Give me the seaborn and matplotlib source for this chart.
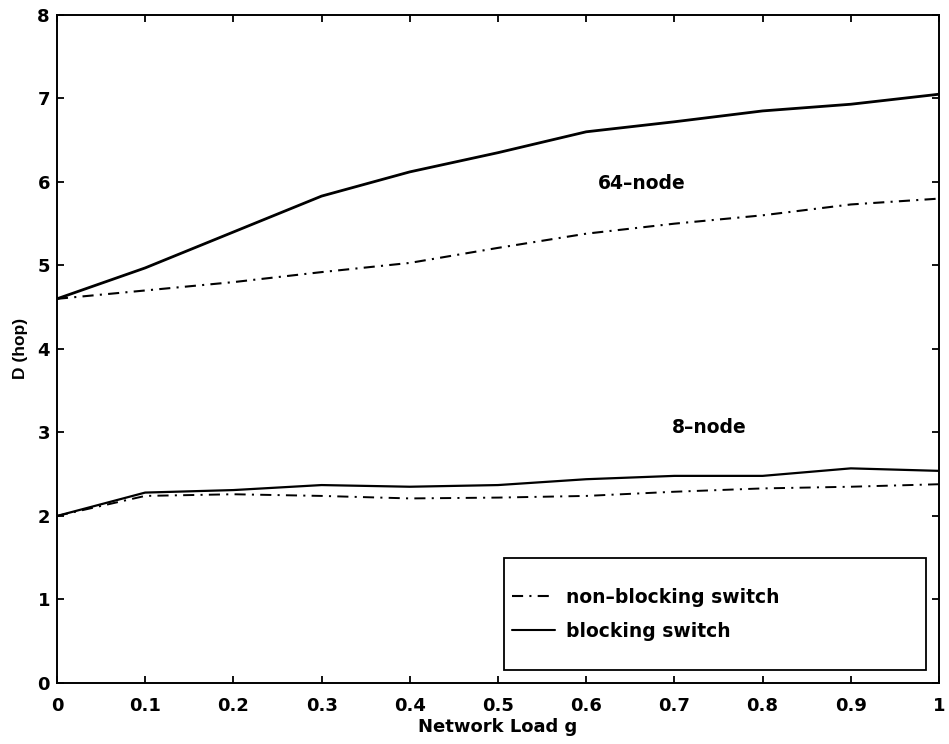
import matplotlib
matplotlib.use("Agg")
import matplotlib.pyplot as plt
import seaborn as sns
from matplotlib.patches import Rectangle
from matplotlib.lines import Line2D

load = [0.0, 0.1, 0.2, 0.3, 0.4, 0.5, 0.6, 0.7, 0.8, 0.9, 1.0]
blocking_64 = [4.60, 4.97, 5.40, 5.83, 6.12, 6.35, 6.60, 6.72, 6.85, 6.93, 7.05]
nonblocking_64 = [4.60, 4.70, 4.80, 4.92, 5.03, 5.21, 5.38, 5.50, 5.60, 5.73, 5.80]
blocking_8 = [2.00, 2.28, 2.31, 2.37, 2.35, 2.37, 2.44, 2.48, 2.48, 2.57, 2.54]
nonblocking_8 = [2.00, 2.24, 2.26, 2.24, 2.21, 2.22, 2.24, 2.29, 2.33, 2.35, 2.38]
x_ticks = [0, 0.1, 0.2, 0.3, 0.4, 0.5, 0.6, 0.7, 0.8, 0.9, 1]
x_tick_labels = ["0", "0.1", "0.2", "0.3", "0.4", "0.5", "0.6", "0.7", "0.8", "0.9", "1"]
y_ticks = [0, 1, 2, 3, 4, 5, 6, 7, 8]
legend_labels = ["non\u2013blocking switch", "blocking switch"]

sns.set_theme(style="white")
plt.rcParams['font.family'] = ['DejaVu Sans']
plt.rcParams['lines.scale_dashes'] = False
plt.rcParams['text.color'] = 'black'
plt.rcParams['axes.labelcolor'] = 'black'
plt.rcParams['xtick.color'] = 'black'
plt.rcParams['ytick.color'] = 'black'

fig = plt.figure(figsize=(9.49, 7.44), dpi=100)
ax = fig.add_axes([0.060, 0.082, 0.9295, 0.898])

dashdot = (0, (8, 4.5, 1.5, 4.5))
sns.lineplot(x=load, y=nonblocking_64, ax=ax, color="black", lw=1.5, linestyle=dashdot)
sns.lineplot(x=load, y=blocking_64, ax=ax, color="black", lw=2.0)
sns.lineplot(x=load, y=nonblocking_8, ax=ax, color="black", lw=1.4, linestyle=dashdot)
sns.lineplot(x=load, y=blocking_8, ax=ax, color="black", lw=1.6)

ax.set_xlim(0, 1)
ax.set_ylim(0, 8)
ax.set_xticks(x_ticks)
ax.set_xticklabels(x_tick_labels)
ax.set_yticks(y_ticks)
ax.tick_params(direction="in", length=5, width=1.3, top=True, right=True,
               bottom=True, left=True, labelsize=13, colors="black")
ax.tick_params(axis="x", pad=10)
ax.tick_params(axis="y", pad=5)
for lab in ax.get_xticklabels() + ax.get_yticklabels():
    lab.set_fontweight("bold")
for s in ax.spines.values():
    s.set_color("black")
    s.set_linewidth(1.4)

ax.set_xlabel("Network Load g", fontsize=13, fontweight="bold", labelpad=2, color="black")
ax.set_ylabel("D (hop)", fontsize=12.5, fontweight="bold", labelpad=7,
              family="Liberation Sans", color="black")

ax.text(0.663, 5.98, "64\u2013node", fontsize=13.5, fontweight="bold",
        ha="center", va="center", color="black")
ax.text(0.740, 3.06, "8\u2013node", fontsize=13.5, fontweight="bold",
        ha="center", va="center", color="black")

# legend frame
ax.add_patch(Rectangle((0.507, 0.0195), 0.478, 0.168, transform=ax.transAxes,
                       fill=False, edgecolor="black", lw=1.3, zorder=5))
handles = [Line2D([], [], color="black", lw=1.5, linestyle=dashdot),
           Line2D([], [], color="black", lw=1.5)]
leg = ax.legend(handles, legend_labels,
                loc="center left", bbox_to_anchor=(0.516, 0.103), frameon=False,
                prop={"size": 13.5, "weight": "bold"}, labelcolor="black",
                handlelength=2.3, handletextpad=0.55, labelspacing=0.8,
                borderaxespad=0, borderpad=0)

fig.savefig("out.png", dpi=100)
